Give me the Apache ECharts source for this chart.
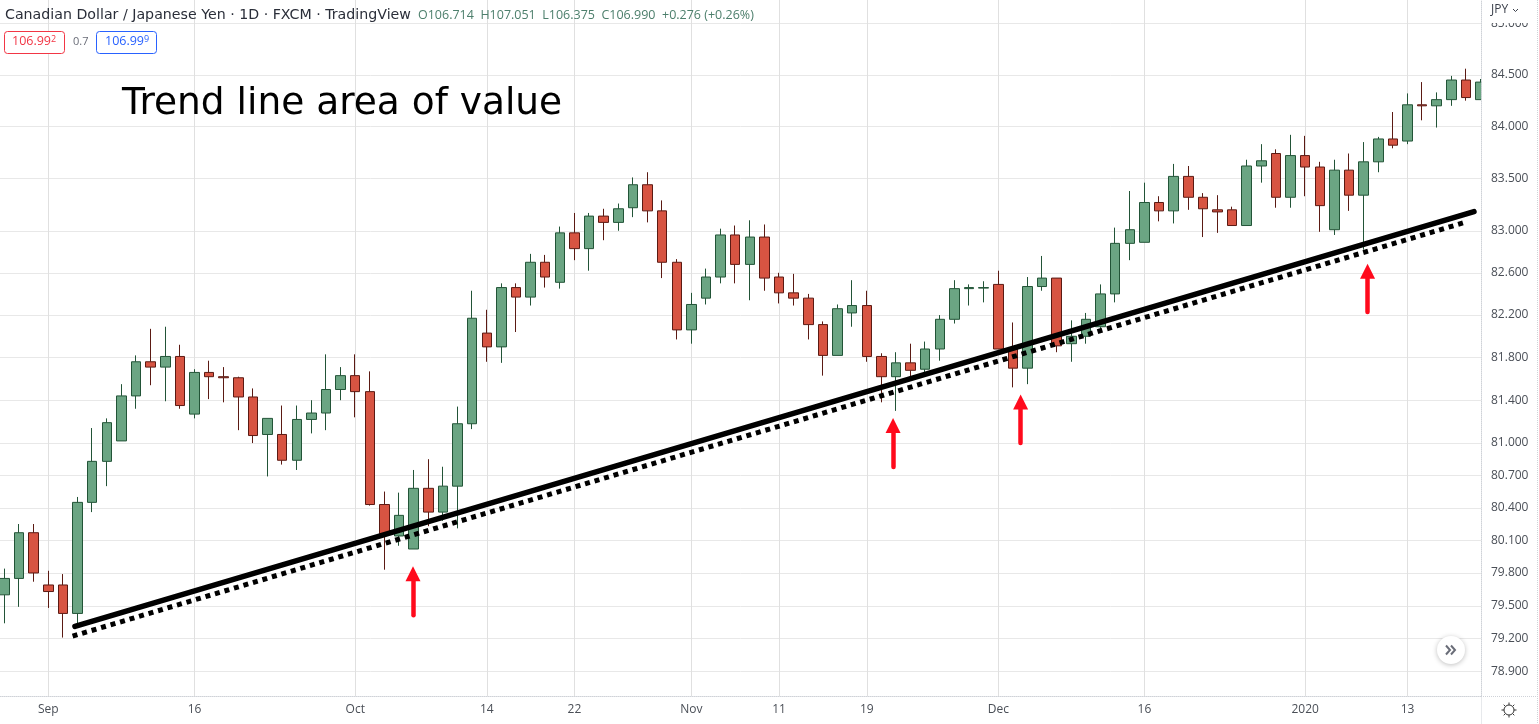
<!DOCTYPE html>
<html>
<head>
<meta charset="utf-8">
<title>CAD/JPY trend line</title>
<script src="https://cdn.jsdelivr.net/npm/echarts@6/dist/echarts.min.js"></script>
<style>
  html, body { margin: 0; padding: 0; background: #fff; }
  #chart { width: 1539px; height: 724px; }
</style>
</head>
<body>
<div id="chart"></div>
<script>
// daily CAD/JPY candles
const opens = [79.60,79.75,80.17,79.69,79.69,79.43,80.45,80.83,81.02,81.44,81.76,81.71,81.81,81.27,81.66,81.62,81.61,81.43,81.08,81.08,80.84,81.22,81.28,81.50,81.63,81.48,80.43,80.14,80.02,80.58,80.36,80.60,81.18,82.03,81.90,82.46,82.37,82.70,82.51,82.98,82.83,83.14,83.08,83.22,83.44,83.19,82.70,82.06,82.36,82.56,82.96,82.68,82.94,82.56,82.41,82.36,82.11,81.82,82.22,82.29,81.81,81.62,81.75,81.69,81.88,82.16,82.45,82.455,82.49,81.88,81.70,82.47,82.55,81.93,82.00,82.09,82.40,82.88,82.89,83.27,83.19,83.52,83.32,83.20,83.20,83.05,83.62,83.74,83.32,83.72,83.61,83.01,83.58,83.34,83.66,83.88,83.86,84.21,84.20,84.26,84.45,84.26];
const closes = [79.75,80.17,79.80,79.63,79.43,80.45,80.83,81.19,81.44,81.76,81.71,81.81,81.35,81.66,81.62,81.61,81.43,81.07,81.23,80.84,81.22,81.28,81.50,81.63,81.48,80.43,80.16,80.33,80.58,80.36,80.60,81.18,82.17,81.90,82.46,82.37,82.70,82.56,82.98,82.83,83.14,83.08,83.21,83.44,83.19,82.70,82.06,82.30,82.56,82.96,82.68,82.94,82.55,82.41,82.36,82.11,81.82,82.26,82.29,81.81,81.62,81.75,81.68,81.88,82.16,82.45,82.46,82.46,81.88,81.70,82.47,82.55,81.91,82.00,82.16,82.40,82.88,83.01,83.27,83.19,83.52,83.32,83.21,83.18,83.05,83.62,83.67,83.32,83.72,83.61,83.24,83.58,83.34,83.66,83.88,83.82,84.21,84.20,84.26,84.45,84.28,84.43];
const lows = [79.34,79.49,79.72,79.48,79.21,79.33,80.36,80.60,81.02,81.32,81.54,81.39,81.32,81.23,81.41,81.38,81.12,81.00,80.69,80.80,80.75,81.09,81.12,81.40,81.24,80.42,79.83,80.05,80.02,80.23,80.28,80.21,81.13,81.76,81.75,82.04,82.29,82.46,82.45,82.72,82.62,82.91,83.00,83.13,83.08,82.55,81.97,81.93,82.30,82.50,82.50,82.34,82.43,82.31,82.29,81.97,81.63,81.82,82.09,81.76,81.38,81.30,81.62,81.66,81.77,82.12,82.29,82.32,81.88,81.52,81.55,82.43,81.85,81.76,81.93,82.06,82.32,82.72,82.89,83.09,83.07,83.20,82.94,82.98,83.05,83.05,83.46,83.22,83.22,83.33,82.99,82.96,83.19,82.82,83.56,83.79,83.83,84.06,83.99,84.20,84.25,84.26];
const highs = [79.84,80.25,80.25,79.82,79.79,80.50,81.14,81.23,81.55,81.82,82.07,82.09,81.92,81.69,81.77,81.71,81.62,81.51,81.23,81.35,81.35,81.40,81.83,81.71,81.83,81.67,80.55,80.54,80.75,80.85,80.78,81.34,82.43,82.25,82.50,82.50,82.78,82.77,83.04,83.17,83.17,83.21,83.26,83.51,83.56,83.29,82.73,82.41,82.64,83.02,83.05,83.10,83.06,82.60,82.59,82.40,82.14,82.30,82.53,82.43,81.84,81.85,81.93,81.95,82.20,82.53,82.49,82.52,82.62,82.13,82.56,82.76,82.55,82.15,82.22,82.49,83.03,83.38,83.46,83.33,83.64,83.62,83.36,83.34,83.23,83.68,83.83,83.78,83.92,83.91,83.66,83.68,83.74,83.85,83.90,84.14,84.32,84.43,84.33,84.49,84.56,84.46];

const xTickIndex = [3, 13, 24, 33, 39, 47, 53, 59, 68, 78, 89, 96];
const xTickLabels = ['Sep', '16', 'Oct', '14', '22', 'Nov', '11', '19', 'Dec', '16', '2020', '13'];
const yTickValues = [78.9, 79.2, 79.5, 79.8, 80.1, 80.4, 80.7, 81, 81.4, 81.8, 82.2, 82.6, 83, 83.5, 84, 84.5, 85];

// drawn trend lines: [day, price]
const trendSolid = [[4.82, 79.312], [100.55, 83.183]];
const trendDotted = [[4.66, 79.223], [99.93, 83.08]];

// red arrows under the touches
const arrowDay = [27.95, 60.8, 69.53, 93.27];
const arrowTail = [79.413, 80.778, 81.001, 82.228];
const arrowHead = [79.793, 81.164, 81.382, 82.616];

const UI_FONT = '"Open Sans", "Noto Sans", sans-serif';
const WIDE_FONT = '"DejaVu Sans", sans-serif';
const UP = '#6ba583', DOWN = '#d75442', UP_EDGE = '#225437', DOWN_EDGE = '#5b1a13';
const GRID_H = '#e8e8e8', GRID_V = '#e0e0e0', TEXT = '#4a4f57', EDGE = '#cfd2d8';
const PRICE_MIN = 78.68, PRICE_MAX = 85.23;

const candles = opens.map((o, i) => [i, o, closes[i], lows[i], highs[i]]);
const arrowLines = arrowDay.map((d, i) => [{ coord: [d, arrowTail[i]] }, { coord: [d, arrowHead[i]] }]);

function gearIcon(cx, cy) {
  const spokes = [];
  for (let a = 0; a < 8; a++) {
    const t = a * Math.PI / 4;
    spokes.push({
      type: 'line', silent: true, z: 20,
      shape: { x1: cx + Math.cos(t) * 5, y1: cy + Math.sin(t) * 5, x2: cx + Math.cos(t) * 7.5, y2: cy + Math.sin(t) * 7.5 },
      style: { stroke: '#333', lineWidth: 1 }
    });
  }
  return spokes.concat({
    type: 'circle', silent: true, z: 20,
    shape: { cx, cy, r: 5 },
    style: { fill: '#fff', stroke: '#333', lineWidth: 1 }
  });
}

const chart = echarts.init(document.getElementById('chart'));
chart.setOption({
  animation: false,
  backgroundColor: '#fff',
  textStyle: { fontFamily: UI_FONT },
  grid: { left: 0, right: 58, top: 0, bottom: 28, containLabel: false },
  xAxis: {
    type: 'value',
    min: -0.308,
    max: 101.03,
    axisLine: { onZero: false, lineStyle: { color: EDGE, type: 'dotted' } },
    axisTick: { show: false, customValues: xTickIndex },
    axisLabel: {
      customValues: xTickIndex,
      color: TEXT, fontSize: 12, fontFamily: UI_FONT, margin: 8,
      formatter: v => xTickLabels[xTickIndex.indexOf(v)]
    },
    splitLine: { show: true, lineStyle: { color: GRID_V, width: 1 } }
  },
  yAxis: [
    // gridlines stay under the candles
    {
      type: 'log',
      position: 'right',
      min: PRICE_MIN,
      max: PRICE_MAX,
      axisLine: { show: false, onZero: false },
      axisTick: { show: false, customValues: yTickValues },
      axisLabel: { show: false, customValues: yTickValues },
      splitLine: { show: true, lineStyle: { color: GRID_H, width: 1 } }
    },
    // price strip sits over the white mask that trims the last candle
    {
      type: 'log',
      position: 'right',
      z: 12,
      min: PRICE_MIN,
      max: PRICE_MAX,
      axisLine: { show: true, onZero: false, lineStyle: { color: EDGE, type: 'dotted' } },
      axisTick: { show: false, customValues: yTickValues },
      axisLabel: {
        customValues: yTickValues,
        color: TEXT, fontSize: 12, fontFamily: UI_FONT, margin: 10,
        formatter: v => Number(v).toFixed(3)
      },
      splitLine: { show: false }
    }
  ],
  series: [
    {
      type: 'candlestick',
      data: candles,
      barWidth: 10,
      itemStyle: { color: UP, color0: DOWN, borderColor: UP_EDGE, borderColor0: DOWN_EDGE, borderWidth: 1 }
    },
    {
      name: 'trend', type: 'line', data: trendSolid, z: 5, symbol: 'none', silent: true,
      lineStyle: { color: '#000', width: 5.5, cap: 'round' }
    },
    {
      name: 'trend dotted', type: 'line', data: trendDotted, z: 5, symbol: 'none', silent: true,
      lineStyle: { color: '#000', width: 5, type: [5, 4.9] }
    },
    {
      name: 'arrows', type: 'line', data: [], z: 6, silent: true,
      markLine: {
        silent: true, animation: false,
        symbol: ['none', 'triangle'], symbolSize: 15,
        label: { show: false },
        lineStyle: { color: '#ff0a1c', width: 4.5, type: 'solid', cap: 'round' },
        data: arrowLines
      }
    }
  ],
  graphic: [
    // mask for the part of the last candle past the plot edge
    { type: 'rect', silent: true, z: 10, shape: { x: 1481.5, y: 0, width: 55, height: 695.5 }, style: { fill: '#fff' } },
    // cover the top of the clipped 85.000 label, as the header strip does
    { type: 'rect', silent: true, z: 13, shape: { x: 1482, y: 0, width: 54, height: 23 }, style: { fill: '#fff' } },
    { type: 'line', silent: true, z: 13, shape: { x1: 1537.5, y1: 0, x2: 1537.5, y2: 724 }, style: { stroke: EDGE, lineDash: [1, 1] } },
    { type: 'line', silent: true, z: 13, shape: { x1: 1481.5, y1: 696.5, x2: 1481.5, y2: 724 }, style: { stroke: EDGE, lineDash: [1, 1] } },
    { type: 'line', silent: true, z: 13, shape: { x1: 1481, y1: 696.5, x2: 1537, y2: 696.5 }, style: { stroke: EDGE, lineDash: [1, 1] } },
    {
      type: 'text', silent: true, z: 10, x: 5, y: 8,
      style: { text: 'Canadian Dollar / Japanese Yen · 1D · FXCM · TradingView', fill: '#2a2e39', font: '14.2px ' + WIDE_FONT }
    },
    {
      type: 'text', silent: true, z: 10, x: 418, y: 9,
      style: { text: 'O106.714  H107.051  L106.375  C106.990  +0.276 (+0.26%)', fill: '#4d7f6c', font: '12.5px ' + UI_FONT }
    },
    { type: 'rect', silent: true, z: 10, shape: { x: 4.5, y: 31.5, width: 60, height: 22, r: 3 }, style: { fill: '#fff', stroke: '#f23645' } },
    {
      type: 'text', silent: true, z: 11, x: 12, y: 35,
      style: {
        text: '{a|106.99}{b|2}',
        rich: {
          a: { fill: '#f23645', font: '12.5px ' + UI_FONT },
          b: { fill: '#f23645', font: '9px ' + UI_FONT, verticalAlign: 'top' }
        }
      }
    },
    { type: 'text', silent: true, z: 10, x: 73, y: 36, style: { text: '0.7', fill: '#6a6d78', font: '11px ' + UI_FONT } },
    { type: 'rect', silent: true, z: 10, shape: { x: 96.5, y: 31.5, width: 60, height: 22, r: 3 }, style: { fill: '#fff', stroke: '#2962ff' } },
    {
      type: 'text', silent: true, z: 11, x: 105, y: 35,
      style: {
        text: '{a|106.99}{b|9}',
        rich: {
          a: { fill: '#2962ff', font: '12.5px ' + UI_FONT },
          b: { fill: '#2962ff', font: '9px ' + UI_FONT, verticalAlign: 'top' }
        }
      }
    },
    {
      type: 'text', silent: true, z: 10, x: 122, y: 85,
      style: { text: 'Trend line area of value', fill: '#000', font: '37.5px ' + WIDE_FONT }
    },
    { type: 'text', silent: true, z: 14, x: 1491, y: 4, style: { text: 'JPY', fill: '#3a3f4a', font: '12px ' + UI_FONT } },
    {
      type: 'polyline', silent: true, z: 14,
      shape: { points: [[1513, 9], [1515.5, 11.5], [1518, 9]] },
      style: { stroke: '#3a3f4a', fill: 'none', lineWidth: 1 }
    },
    // scroll-to-latest button
    {
      type: 'circle', silent: true, z: 10,
      shape: { cx: 1451, cy: 650, r: 14 },
      style: { fill: '#fff', shadowBlur: 5, shadowColor: 'rgba(0,0,0,0.25)', shadowOffsetY: 1 }
    },
    {
      type: 'polyline', silent: true, z: 11,
      shape: { points: [[1446, 645.5], [1450, 650], [1446, 654.5]] },
      style: { stroke: '#6a6d78', fill: 'none', lineWidth: 2 }
    },
    {
      type: 'polyline', silent: true, z: 11,
      shape: { points: [[1451, 645.5], [1455, 650], [1451, 654.5]] },
      style: { stroke: '#6a6d78', fill: 'none', lineWidth: 2 }
    }
  ].concat(gearIcon(1509, 710))
});
</script>
</body>
</html>
